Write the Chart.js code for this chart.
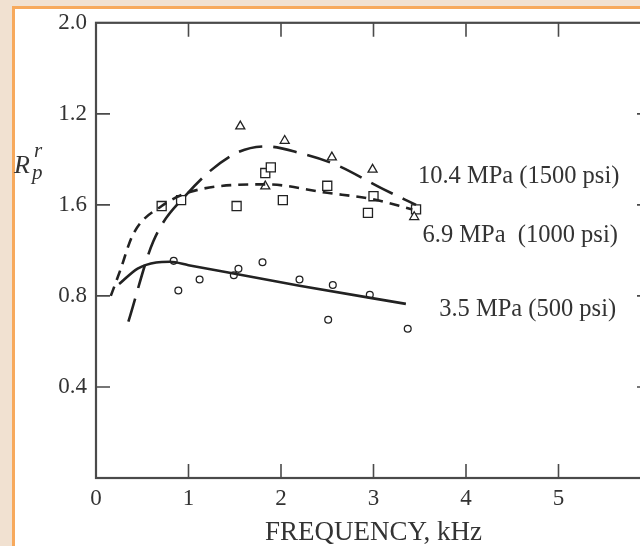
<!DOCTYPE html>
<html lang="en">
<head>
  <meta charset="UTF-8">
  <title>Rp vs frequency</title>
  <script src="https://cdn.jsdelivr.net/npm/chart.js"></script>
  <style>
    html, body { margin: 0; padding: 0; overflow: hidden; background: #f1e1d1; }
    #wrap { position: absolute; left: 0; top: 0; width: 680px; height: 546px; }
  </style>
</head>
<body>
<div id="wrap"><canvas id="rpChart" width="680" height="546"></canvas></div>

<script>
  // tick labels as printed on the original axis (bottom to top)
  const yTickLabels = ['', '0.4', '0.8', '1.6', '1.2', '2.0'];
  const xTickLabels = ['0', '1', '2', '3', '4', '5', ''];

  // measured points
  const circX = [0.84, 0.89, 1.12, 1.49, 1.54, 1.80, 2.20, 2.51, 2.56, 2.96, 3.37];
  const circY = [0.954, 0.824, 0.872, 0.891, 0.919, 0.948, 0.872, 0.695, 0.848, 0.805, 0.656];
  const sqX = [0.71, 0.92, 1.52, 1.83, 1.89, 2.02, 2.50, 2.94, 3.00, 3.46];
  const sqY = [1.195, 1.221, 1.195, 1.340, 1.365, 1.221, 1.284, 1.165, 1.238, 1.180];
  const triX = [1.56, 1.83, 2.04, 2.55, 2.99, 3.44];
  const triY = [1.545, 1.282, 1.482, 1.409, 1.355, 1.147];

  // fitted curves
  const c35X = [0.25, 0.45, 0.65, 0.80, 1.00, 2.20, 3.35];
  const c35Y = [0.852, 0.920, 0.947, 0.950, 0.935, 0.845, 0.765];
  const c69X = [0.16, 0.26, 0.40, 0.71, 1.12, 1.84, 2.50, 2.99, 3.42];
  const c69Y = [0.800, 0.910, 1.070, 1.195, 1.268, 1.290, 1.253, 1.225, 1.180];
  const c104X = [0.35, 0.62, 0.98, 1.48, 1.84, 2.20, 2.59, 3.10, 3.46];
  const c104Y = [0.687, 1.040, 1.246, 1.420, 1.457, 1.428, 1.377, 1.270, 1.200];

  const curveLabels = ['10.4 MPa (1500 psi)', '6.9 MPa  (1000 psi)', '3.5 MPa (500 psi)'];

  const pts = (xs, ys) => xs.map((x, i) => ({ x, y: ys[i] }));
  const ink = '#222';
  const axisInk = '#4a4a4a';
  const serif = '"Liberation Serif", "DejaVu Serif", serif';

  function curve(xs, ys, dash) {
    return {
      data: pts(xs, ys), showLine: true, pointRadius: 0,
      borderColor: ink, borderWidth: 2.6, borderDash: dash,
      tension: 0.4, cubicInterpolationMode: 'monotone', fill: false
    };
  }
  function marks(xs, ys, style, r) {
    return {
      data: pts(xs, ys), showLine: false, pointStyle: style, pointRadius: r,
      borderColor: ink, borderWidth: 1.3, backgroundColor: '#fff'
    };
  }

  const panel = {
    id: 'panel',
    beforeDraw(chart) {
      const ctx = chart.ctx;
      ctx.save();
      ctx.fillStyle = '#f1e1d1';
      ctx.fillRect(0, 0, chart.width, chart.height);
      ctx.fillStyle = '#f7a95c';
      ctx.fillRect(12, 6, chart.width, chart.height);
      ctx.fillStyle = '#fff';
      ctx.fillRect(15, 9, chart.width, chart.height);
      ctx.restore();
    },
    afterDatasetsDraw(chart) {
      const { ctx, chartArea: a, scales: { x, y } } = chart;
      ctx.save();
      ctx.strokeStyle = axisInk;
      ctx.lineWidth = 2.2;
      ctx.strokeRect(a.left, a.top, a.right - a.left, a.bottom - a.top);
      ctx.lineWidth = 1.6;
      ctx.beginPath();
      const tl = 14;
      x.ticks.forEach(t => {
        if (t.value <= 0 || t.value >= 6) return;
        const px = x.getPixelForValue(t.value);
        ctx.moveTo(px, a.bottom); ctx.lineTo(px, a.bottom - tl);
        ctx.moveTo(px, a.top); ctx.lineTo(px, a.top + tl);
      });
      y.ticks.forEach(t => {
        if (t.value <= 0 || t.value >= 2) return;
        const py = y.getPixelForValue(t.value);
        ctx.moveTo(a.left, py); ctx.lineTo(a.left + tl, py);
        ctx.moveTo(a.right, py); ctx.lineTo(a.right - tl, py);
      });
      ctx.stroke();

      // curve labels
      ctx.fillStyle = '#333';
      ctx.font = '24.5px ' + serif;
      ctx.textBaseline = 'middle';
      ctx.textAlign = 'left';
      ctx.fillText(curveLabels[0], x.getPixelForValue(3.48), y.getPixelForValue(1.326));
      ctx.fillText(curveLabels[1], x.getPixelForValue(3.53), y.getPixelForValue(1.063));
      ctx.fillText(curveLabels[2], x.getPixelForValue(3.71), y.getPixelForValue(0.74));

      // y axis label R_p^r
      ctx.textBaseline = 'alphabetic';
      ctx.font = 'italic 26px ' + serif;
      ctx.fillText('R', 14, 173);
      ctx.font = 'italic 21px ' + serif;
      ctx.fillText('r', 34, 157);
      ctx.fillText('p', 32, 179);
      ctx.restore();
    }
  };

  new Chart(document.getElementById('rpChart'), {
    type: 'scatter',
    data: {
      datasets: [
        curve(c104X, c104Y, [24, 11]),
        curve(c69X, c69Y, [10, 7]),
        curve(c35X, c35Y, []),
        marks(triX, triY, 'triangle', 5.2),
        marks(sqX, sqY, 'rect', 6.4),
        marks(circX, circY, 'circle', 3.4)
      ]
    },
    options: {
      responsive: false,
      animation: false,
      layout: { padding: { left: 0, top: 21, right: 29, bottom: 0 } },
      plugins: { legend: { display: false }, tooltip: { enabled: false } },
      scales: {
        x: {
          type: 'linear', min: 0, max: 6,
          grid: { display: false, drawTicks: false },
          border: { display: false },
          afterFit: s => { s.height = 68; },
          ticks: {
            stepSize: 1, padding: 7, color: '#333', maxRotation: 0,
            font: { family: serif, size: 23 },
            callback: (v, i) => xTickLabels[i]
          },
          title: {
            display: true, text: 'FREQUENCY, kHz', color: '#333',
            font: { family: serif, size: 27, lineHeight: 1 },
            padding: { top: 0, bottom: 0 }
          }
        },
        y: {
          type: 'linear', min: 0, max: 2,
          grid: { display: false, drawTicks: false },
          border: { display: false },
          afterFit: s => { s.width = 96; },
          ticks: {
            stepSize: 0.4, padding: 9, color: '#333',
            font: { family: serif, size: 23 },
            callback: (v, i) => yTickLabels[i]
          }
        }
      }
    },
    plugins: [panel]
  });
</script>
</body>
</html>
